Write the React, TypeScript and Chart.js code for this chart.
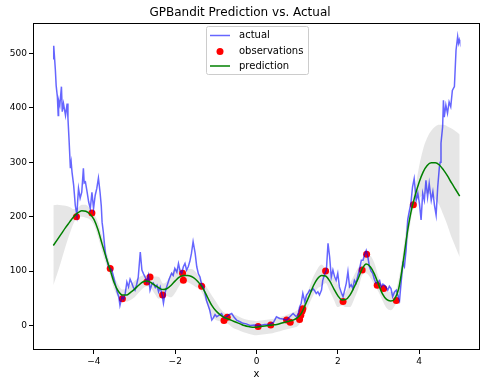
import React, { useEffect, useRef } from "react";
import { Chart, registerables } from "chart.js";

Chart.register(...registerables);

const chartTitle = "GPBandit Prediction vs. Actual";
const xAxisLabel = "x";
const legendLabels = ["actual", "observations", "prediction"];
const xTicks = [-4, -2, 0, 2, 4];
const yTicks = [0, 100, 200, 300, 400, 500];

const actualX = [
  -5.0, -4.99, -4.97, -4.95, -4.93, -4.9, -4.88, -4.87, -4.84, -4.8, -4.78, -4.75, -4.72, -4.7, -4.66, -4.64,
  -4.61, -4.58, -4.56, -4.54, -4.5, -4.48, -4.46, -4.42, -4.4, -4.38, -4.34, -4.3, -4.26, -4.24, -4.21, -4.17,
  -4.13, -4.09, -4.05, -4.01, -3.97, -3.93, -3.89, -3.85, -3.82, -3.8, -3.77, -3.72, -3.68, -3.64, -3.6, -3.56,
  -3.52, -3.48, -3.43, -3.39, -3.36, -3.31, -3.27, -3.23, -3.19, -3.15, -3.11, -3.07, -3.03, -2.99, -2.95, -2.91,
  -2.86, -2.82, -2.78, -2.74, -2.7, -2.66, -2.62, -2.58, -2.54, -2.49, -2.45, -2.41, -2.37, -2.32, -2.29, -2.25,
  -2.21, -2.15, -2.09, -2.05, -2.01, -1.96, -1.92, -1.88, -1.84, -1.8, -1.76, -1.72, -1.68, -1.64, -1.6, -1.56,
  -1.51, -1.47, -1.43, -1.39, -1.35, -1.31, -1.27, -1.23, -1.19, -1.15, -1.1, -1.07, -1.02, -0.98, -0.92, -0.86,
  -0.8, -0.74, -0.67, -0.61, -0.55, -0.49, -0.41, -0.33, -0.25, -0.16, -0.05, 0.08, 0.2, 0.33, 0.42, 0.49,
  0.57, 0.65, 0.74, 0.82, 0.9, 0.98, 1.03, 1.06, 1.1, 1.14, 1.19, 1.23, 1.27, 1.31, 1.35, 1.39,
  1.43, 1.47, 1.51, 1.55, 1.6, 1.63, 1.68, 1.72, 1.76, 1.8, 1.84, 1.88, 1.92, 1.96, 2.0, 2.04,
  2.09, 2.13, 2.17, 2.21, 2.25, 2.29, 2.33, 2.37, 2.41, 2.45, 2.49, 2.53, 2.58, 2.62, 2.66, 2.7,
  2.74, 2.78, 2.82, 2.86, 2.9, 2.94, 2.99, 3.03, 3.07, 3.11, 3.15, 3.19, 3.23, 3.27, 3.31, 3.35,
  3.4, 3.44, 3.48, 3.52, 3.56, 3.6, 3.64, 3.68, 3.72, 3.76, 3.8, 3.84, 3.88, 3.93, 3.97, 4.01,
  4.05, 4.09, 4.13, 4.17, 4.21, 4.25, 4.3, 4.34, 4.38, 4.42, 4.46, 4.5, 4.52, 4.54, 4.58, 4.6,
  4.62, 4.66, 4.7, 4.74, 4.78, 4.82, 4.87, 4.91, 4.95, 4.97, 4.99, 5.0,
];
const actualY = [
  490, 514, 492, 470, 441, 420, 386, 414, 405, 439, 393, 408, 395, 386, 408, 381,
  337, 289, 300, 282, 258, 240, 221, 203, 230, 252, 234, 245, 289, 262, 264, 246,
  227, 215, 245, 215, 239, 252, 271, 245, 220, 190, 172, 133, 120, 108, 105, 102,
  90, 78, 62, 53, 37, 53, 48, 59, 80, 71, 85, 78, 70, 65, 75, 89,
  135, 102, 95, 89, 80, 92, 65, 75, 78, 70, 74, 62, 71, 55, 41, 60,
  71, 85, 96, 92, 105, 98, 114, 100, 96, 108, 114, 102, 108, 118, 133, 154,
  133, 108, 95, 89, 75, 71, 60, 46, 37, 28, 10, 13, 20, 16, 19, 22,
  14, 16, 20, 22, 15, 10, 7, 4, 3, 0, 1, 0, 2, 2, 6, 16,
  13, 12, 10, 16, 22, 16, 22, 34, 41, 59, 43, 56, 60, 65, 63, 68,
  64, 59, 62, 56, 65, 83, 95, 102, 151, 126, 89, 102, 90, 83, 96, 71,
  60, 53, 65, 78, 99, 71, 75, 68, 83, 78, 90, 102, 120, 120, 130, 138,
  126, 108, 100, 96, 85, 78, 80, 83, 71, 76, 74, 70, 65, 72, 68, 53,
  62, 65, 55, 46, 80, 114, 108, 138, 194, 210, 225, 255, 270, 230, 243, 224,
  194, 243, 230, 267, 236, 261, 230, 246, 221, 203, 255, 291, 300, 335, 365, 414,
  383, 405, 390, 411, 402, 432, 439, 506, 531, 519, 525, 522,
];

const obsX = [
  -4.43, -4.05, -3.6, -3.3, -2.7, -2.62, -2.31, -1.82, -1.8, -1.35, -0.8, -0.72, 0.04, 0.35,
  0.74, 0.83, 1.06, 1.09, 1.12, 1.14, 1.7, 2.13, 2.6, 2.71, 2.97, 3.13, 3.44, 3.86,
];
const obsY = [
  200, 207, 105, 49, 80, 89, 56, 96, 83, 72, 9, 15, -2, 1,
  10, 6, 11, 19, 26, 31, 100, 44, 102, 131, 74, 68, 46, 222,
];

const predX = [
  -5.0, -4.9, -4.8, -4.7, -4.6, -4.5, -4.4, -4.3, -4.2, -4.1,
  -4.0, -3.9, -3.8, -3.7, -3.6, -3.5, -3.4, -3.3, -3.2, -3.1,
  -3.0, -2.9, -2.8, -2.7, -2.6, -2.5, -2.4, -2.3, -2.2, -2.1,
  -2.0, -1.9, -1.8, -1.7, -1.6, -1.5, -1.4, -1.3, -1.2, -1.1,
  -1.0, -0.9, -0.8, -0.7, -0.6, -0.5, -0.4, -0.3, -0.2, -0.1,
  0.0, 0.1, 0.2, 0.3, 0.4, 0.5, 0.6, 0.7, 0.8, 0.9,
  1.0, 1.1, 1.2, 1.3, 1.4, 1.5, 1.6, 1.7, 1.8, 1.9,
  2.0, 2.1, 2.2, 2.3, 2.4, 2.5, 2.6, 2.7, 2.8, 2.9,
  3.0, 3.1, 3.2, 3.3, 3.4, 3.5, 3.6, 3.7, 3.8, 3.9,
  4.0, 4.1, 4.2, 4.3, 4.4, 4.5, 4.6, 4.7, 4.8, 4.9, 5.0,
];
const predMean = [
  147, 158, 169, 180, 190, 200, 207, 211, 210, 205,
  195, 176, 150, 125, 102, 78, 63, 56, 56, 61,
  67, 74, 80, 82, 79, 74, 69, 66, 68, 74,
  82, 89, 92, 92, 90, 85, 77, 66, 51, 37,
  27, 20, 15, 12, 9, 6, 3, 0, -2, -3,
  -3, -2, -1, 0, 1, 2, 4, 6, 8, 10,
  14, 22, 38, 55, 73, 86, 92, 91, 82, 68,
  55, 47, 48, 56, 70, 86, 104, 113, 108, 95,
  76, 58, 48, 45, 49, 68, 112, 165, 208, 238,
  263, 282, 294, 299, 299, 295, 286, 275, 262, 250, 238,
];
const predUpper = [
  221, 222, 221, 220, 218, 214, 216, 222, 222, 215,
  205, 190, 164, 138, 113, 90, 75, 66, 68, 75,
  82, 88, 92, 92, 89, 90, 89, 77, 82, 96,
  104, 105, 102, 104, 104, 99, 87, 78, 67, 55,
  44, 32, 24, 22, 21, 19, 15, 12, 10, 9,
  8, 9, 10, 11, 12, 14, 16, 18, 21, 24,
  28, 36, 52, 70, 90, 104, 112, 104, 100, 88,
  76, 57, 62, 78, 92, 106, 116, 130, 128, 115,
  90, 70, 64, 62, 62, 86, 132, 188, 222, 250,
  292, 324, 345, 358, 366, 369, 369, 366, 362, 357, 351,
];
const predLower = [
  74, 96, 120, 145, 168, 188, 198, 200, 198, 195,
  185, 163, 136, 112, 92, 66, 51, 46, 44, 47,
  52, 60, 68, 72, 69, 58, 49, 55, 54, 52,
  60, 73, 82, 80, 76, 71, 67, 54, 35, 19,
  10, 8, 6, 3, -3, -7, -10, -13, -15, -17,
  -18, -17, -16, -15, -14, -12, -10, -8, -6, -4,
  -2, 8, 24, 40, 56, 68, 72, 78, 64, 48,
  34, 37, 34, 34, 48, 66, 92, 96, 88, 75,
  62, 46, 32, 28, 36, 50, 92, 142, 194, 226,
  234, 240, 243, 240, 232, 221, 203, 184, 162, 144, 126,
];

const FONT = "'DejaVu Sans', 'Liberation Sans', sans-serif";
const ACTUAL_COLOR = "rgba(0, 0, 255, 0.6)";
const OBS_COLOR = "#ff0000";
const PRED_COLOR = "#008000";
const BAND_COLOR = "rgba(128, 128, 128, 0.2)";

const fmt = (v: number) => (v < 0 ? "\u2212" + Math.abs(v) : String(v));

const framePlugin = {
  id: "frameAndLegend",
  afterDraw(chart: any) {
    const { ctx, chartArea } = chart;
    const l = Math.round(chartArea.left) + 0.5;
    const t = Math.round(chartArea.top) + 0.5;
    const r = Math.round(chartArea.right) - 0.5;
    const b = Math.round(chartArea.bottom) - 0.5;
    ctx.save();
    ctx.strokeStyle = "#000";
    ctx.lineWidth = 1;
    ctx.strokeRect(l, t, r - l, b - t);

    // legend box
    const bx = 206.5, by = 26.5, bw = 102, bh = 48;
    ctx.fillStyle = "rgba(255,255,255,0.8)";
    ctx.strokeStyle = "#cccccc";
    ctx.beginPath();
    const rad = 2;
    ctx.moveTo(bx + rad, by);
    ctx.lineTo(bx + bw - rad, by);
    ctx.quadraticCurveTo(bx + bw, by, bx + bw, by + rad);
    ctx.lineTo(bx + bw, by + bh - rad);
    ctx.quadraticCurveTo(bx + bw, by + bh, bx + bw - rad, by + bh);
    ctx.lineTo(bx + rad, by + bh);
    ctx.quadraticCurveTo(bx, by + bh, bx, by + bh - rad);
    ctx.lineTo(bx, by + rad);
    ctx.quadraticCurveTo(bx, by, bx + rad, by);
    ctx.closePath();
    ctx.fill();
    ctx.stroke();

    const rows = [35.5, 51.5, 66];
    ctx.lineWidth = 1.5;
    ctx.strokeStyle = ACTUAL_COLOR;
    ctx.beginPath();
    ctx.moveTo(210, rows[0]);
    ctx.lineTo(230, rows[0]);
    ctx.stroke();
    ctx.fillStyle = OBS_COLOR;
    ctx.beginPath();
    ctx.arc(220, rows[1], 3.5, 0, Math.PI * 2);
    ctx.fill();
    ctx.strokeStyle = PRED_COLOR;
    ctx.beginPath();
    ctx.moveTo(210, rows[2]);
    ctx.lineTo(230, rows[2]);
    ctx.stroke();

    ctx.fillStyle = "#000";
    ctx.font = "10px " + FONT;
    ctx.textBaseline = "middle";
    ctx.textAlign = "left";
    legendLabels.forEach((txt, i) => ctx.fillText(txt, 239, rows[i]));
    ctx.restore();
  },
};

export default function App() {
  const canvasRef = useRef<HTMLCanvasElement | null>(null);

  useEffect(() => {
    if (!canvasRef.current) return;
    const toPts = (xs: number[], ys: number[]) => xs.map((x, i) => ({ x, y: ys[i] }));
    const chart = new Chart(canvasRef.current, {
      type: "line",
      data: {
        datasets: [
          {
            label: legendLabels[2],
            data: toPts(predX, predMean),
            borderColor: PRED_COLOR,
            borderWidth: 1.5,
            pointRadius: 0,
            cubicInterpolationMode: "monotone",
            fill: false,
            order: 0,
          },
          {
            label: legendLabels[0],
            data: toPts(actualX, actualY),
            borderColor: ACTUAL_COLOR,
            borderWidth: 1.5,
            pointRadius: 0,
            tension: 0,
            fill: false,
            order: 1,
          },
          {
            label: legendLabels[1],
            data: toPts(obsX, obsY),
            showLine: false,
            pointRadius: 3.5,
            pointBorderWidth: 0,
            pointBackgroundColor: OBS_COLOR,
            pointBorderColor: OBS_COLOR,
            backgroundColor: OBS_COLOR,
            borderColor: OBS_COLOR,
            fill: false,
            order: 2,
          },
          {
            label: "upper",
            data: toPts(predX, predUpper),
            borderColor: "rgba(0,0,0,0)",
            borderWidth: 0,
            pointRadius: 0,
            cubicInterpolationMode: "monotone",
            backgroundColor: BAND_COLOR,
            fill: "+1",
            order: 3,
          },
          {
            label: "lower",
            data: toPts(predX, predLower),
            borderColor: "rgba(0,0,0,0)",
            borderWidth: 0,
            pointRadius: 0,
            cubicInterpolationMode: "monotone",
            fill: false,
            order: 4,
          },
        ],
      },
      options: {
        animation: false,
        responsive: false,
        maintainAspectRatio: false,
        events: [],
        layout: { padding: { left: 0, right: 6, top: 0, bottom: 0 } },
        plugins: {
          legend: { display: false },
          tooltip: { enabled: false },
          title: {
            display: true,
            text: chartTitle,
            color: "#000",
            font: { family: FONT, size: 12, weight: "normal" },
            padding: { top: 6, bottom: 2.6 },
          },
        },
        scales: {
          x: {
            type: "linear",
            min: -5.5,
            max: 5.5,
            afterBuildTicks: (axis: any) => {
              axis.ticks = xTicks.map((v) => ({ value: v }));
            },
            afterFit: (axis: any) => {
              axis.height = 37;
            },
            grid: { display: true, drawOnChartArea: false, drawTicks: true, tickLength: 4, color: "#000", lineWidth: 1 },
            border: { display: false },
            ticks: {
              color: "#000",
              font: { family: FONT, size: 9 },
              padding: 2,
              maxRotation: 0,
              autoSkip: false,
              callback: (v: any) => fmt(Number(v)),
            },
            title: {
              display: true,
              text: xAxisLabel,
              color: "#000",
              font: { family: FONT, size: 10 },
              padding: { top: 0, bottom: 7 },
            },
          },
          y: {
            type: "linear",
            min: -45,
            max: 556,
            afterBuildTicks: (axis: any) => {
              axis.ticks = yTicks.map((v) => ({ value: v }));
            },
            afterFit: (axis: any) => {
              axis.width = 33;
            },
            grid: { display: true, drawOnChartArea: false, drawTicks: true, tickLength: 4, color: "#000", lineWidth: 1 },
            border: { display: false },
            ticks: {
              color: "#000",
              font: { family: FONT, size: 9 },
              padding: 2,
              autoSkip: false,
              callback: (v: any) => fmt(Number(v)),
            },
          },
        },
      },
      plugins: [framePlugin],
    } as any);
    return () => chart.destroy();
  }, []);

  return (
    <div style={{ position: "fixed", left: 0, top: 0, width: 486, height: 387, background: "#fff" }}>
      <canvas ref={canvasRef} width={486} height={387} style={{ width: 486, height: 387, display: "block" }} />
    </div>
  );
}
